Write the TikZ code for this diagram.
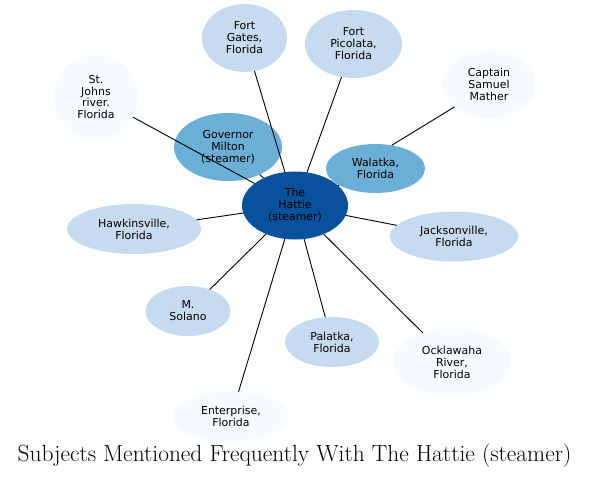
\documentclass[tikz,border=0pt]{standalone}
\usepackage{fontspec}
\newfontfamily\nodefont{DejaVu Sans}
\usetikzlibrary{shapes.geometric}
\definecolor{cdark}{HTML}{08519C}
\definecolor{cmid}{HTML}{6BAED6}
\definecolor{clight}{HTML}{C6DBEF}
\definecolor{cpale}{HTML}{F7FBFF}
\tikzset{
  ell/.style={ellipse, inner sep=0pt, outer sep=0pt, align=center,
    font=\nodefont\fontsize{11}{12}\selectfont, text=black},
  edge/.style={draw=black, line width=0.9bp},
}
\newcommand{\enode}[6]{%
  \node[ell, fill=#4, minimum width=#5bp, minimum height=#6bp] (#1) at (#2) {#3};}
\begin{document}
\begin{tikzpicture}[x=1bp,y=-1bp]
\useasboundingbox[fill=white] (0,0) rectangle (589,477);
\enode{hat}{295,205.5}{The\\Hattie\\(steamer)}{cdark}{106}{68}
\enode{gov}{228,147}{Governor\\Milton\\(steamer)}{cmid}{108}{68}
\enode{wal}{375.5,168.5}{Walatka,\\Florida}{cmid}{99}{49}
\enode{fg}{244.5,38}{Fort\\Gates,\\Florida}{clight}{85}{68}
\enode{fp}{353.5,44}{Fort\\Picolata,\\Florida}{clight}{97}{68}
\enode{sj}{96,97}{St.\\Johns\\river.\\Florida}{cpale}{84}{84}
\enode{cap}{489,84.5}{Captain\\Samuel\\Mather}{cpale}{92}{67}
\enode{haw}{134,229}{Hawkinsville,\\Florida}{clight}{134}{50}
\enode{jac}{454,236.5}{Jacksonville,\\Florida}{clight}{128}{50}
\enode{mso}{188,311}{M.\\Solano}{clight}{85}{50}
\enode{pal}{332,342}{Palatka,\\Florida}{clight}{94}{50}
\enode{ock}{452,362}{Ocklawaha\\River,\\Florida}{cpale}{117}{67}
\enode{ent}{231,416.5}{Enterprise,\\Florida}{cpale}{116}{50}
\foreach \n in {gov,fg,fp,sj,haw,jac,mso,pal,ock,ent,wal}
  \draw[edge] (hat) -- (\n);
\draw[edge] (wal.55) -- (cap.213);
\node[font=\fontsize{23.5}{26}\selectfont] (title) at (294.5,456) {Subjects Mentioned Frequently With The Hattie (steamer)};
\end{tikzpicture}
\end{document}
